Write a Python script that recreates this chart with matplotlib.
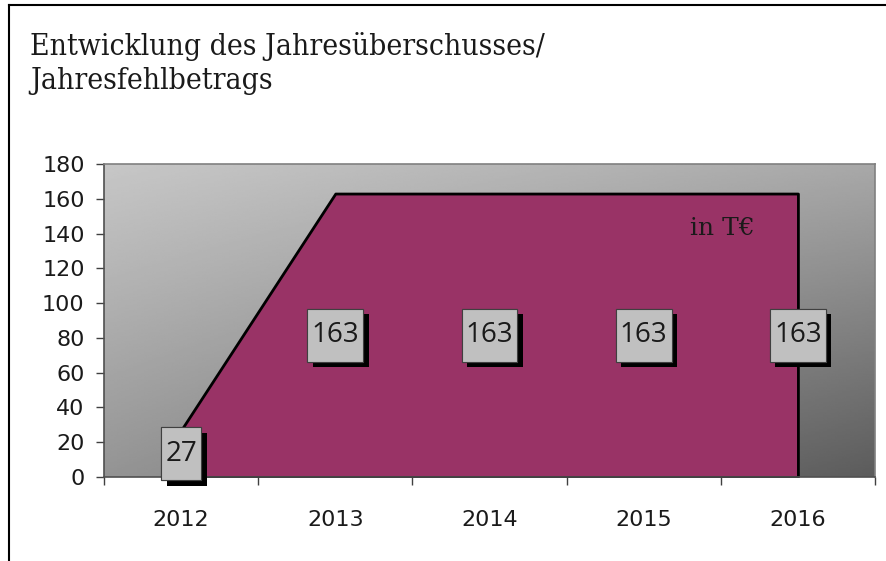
import numpy as np
import matplotlib.pyplot as plt
from matplotlib.lines import Line2D
from matplotlib.path import Path
import matplotlib.patheffects as pe

years = ['2012', '2013', '2014', '2015', '2016']
values = [27, 163, 163, 163, 163]
title = 'Entwicklung des Jahresüberschusses/\nJahresfehlbetrags'
unit = 'in T€'

fig = plt.figure(figsize=(8.86, 5.61), dpi=100)
ax = fig.add_axes([0.1174, 0.1497, 0.8702, 0.558])

# diagonal grey gradient background of the plot area
u = np.linspace(0, 1, 200)
X, Y = np.meshgrid(u, u)  # Y = 0 at top (imshow origin upper)
tl, tr, bl, br = 0.78, 0.66, 0.58, 0.36
grad = tl * (1 - X) * (1 - Y) + tr * X * (1 - Y) + bl * (1 - X) * Y + br * X * Y
ax.imshow(grad, cmap='gray', vmin=0, vmax=1, extent=[0, 1, 0, 1],
          transform=ax.transAxes, aspect='auto', zorder=0, interpolation='bilinear')

x = np.arange(len(years))
ax.fill_between(x, values, 0, facecolor='#993366', edgecolor='black',
                linewidth=2, zorder=2)

ax.set_xlim(-0.5, len(years) - 0.5)
ax.set_ylim(0, 180)
ax.set_yticks(range(0, 181, 20))
ax.set_xticks(np.arange(-0.5, len(years), 1))
ax.set_xticklabels([])
ax.set_xticks(x, minor=True)
ax.set_xticklabels(years, minor=True)

for lab in ax.get_yticklabels() + ax.get_xticklabels(minor=True):
    lab.set_fontfamily('DejaVu Sans')
    lab.set_fontsize(16)
    lab.set_color('#1a1a1a')
ax.tick_params(axis='y', which='major', direction='out', length=6, width=1,
               color='#404040', pad=8)
ax.tick_params(axis='x', which='major', direction='out', length=6, width=1,
               color='#404040')
ax.tick_params(axis='x', which='minor', length=0, pad=24)

for side, sp in ax.spines.items():
    sp.set_color('#808080')
    sp.set_linewidth(1.2)
ax.spines['left'].set_color('#505050')
ax.spines['bottom'].set_color('#505050')


def label_box(x0, y0, width, height, mutation_size):
    # square box with more room above and below than at the sides
    px = 0.15 * mutation_size
    py = 0.45 * mutation_size
    x0, y0 = x0 - px, y0 - py
    x1, y1 = x0 + width + 2 * px, y0 + height + 2 * py
    return Path([(x0, y0), (x1, y0), (x1, y1), (x0, y1), (x0, y0)], closed=True)


# data labels centred inside the area
for xi, v in zip(x, values):
    t = ax.text(xi, v / 2, str(v), ha='center', va='center', fontsize=20,
                family='Open Sans', color='#1a1a1a', zorder=5,
                bbox=dict(boxstyle=label_box, facecolor='#c0c0c0',
                          edgecolor='#404040', linewidth=0.8))
    t.get_bbox_patch().set_path_effects([
        pe.withSimplePatchShadow(offset=(4, -4), shadow_rgbFace='black', alpha=1),
        pe.Normal()])

ax.text(0.844, 0.795, unit, transform=ax.transAxes, ha='right', va='center',
        fontsize=18, family='DejaVu Serif', color='#1a1a1a', zorder=5)

fig.text(0.034, 0.887, title, ha='left', va='center', fontsize=21.5,
         family='DejaVu Serif', fontstretch='condensed', color='#1a1a1a',
         linespacing=1.3)

# outer frame (left and top edge)
fig.add_artist(Line2D([0.0096, 0.0096], [0, 0.991], color='black', lw=1.5))
fig.add_artist(Line2D([0.0096, 1], [0.991, 0.991], color='black', lw=1.5))

fig.savefig('out.png', dpi=100)
